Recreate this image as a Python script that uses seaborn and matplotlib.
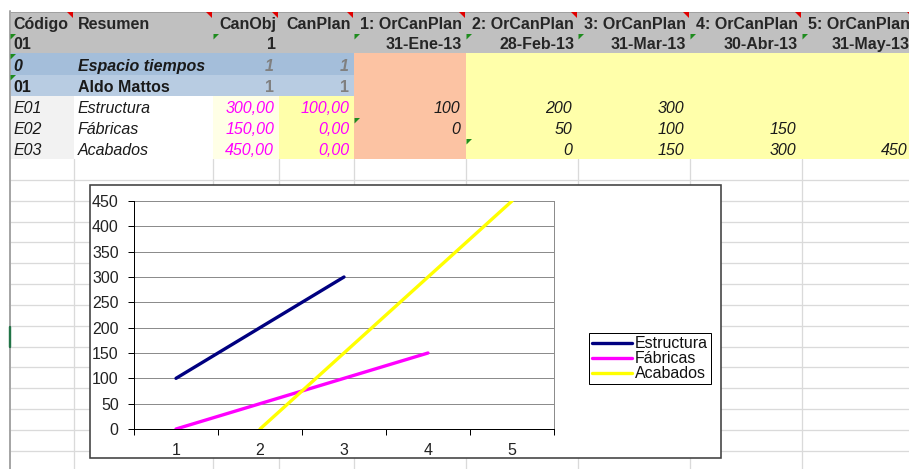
import numpy as np
import pandas as pd
import matplotlib
matplotlib.use("Agg")
import matplotlib.pyplot as plt
from matplotlib.patches import Rectangle, Polygon
import seaborn as sns

# ---------------- data ----------------
periodos = [1, 2, 3, 4, 5]
series = ["Estructura", "Fábricas", "Acabados"]
estructura = [100, 200, 300, np.nan, np.nan]
fabricas = [0, 50, 100, 150, np.nan]
acabados = [np.nan, 0, 150, 300, 450]
colores = ["#000080", "#FF00FF", "#FFFF00"]

codigos = ["0", "01", "E01", "E02", "E03"]
resumen = ["Espacio tiempos", "Aldo Mattos", "Estructura", "Fábricas", "Acabados"]
can_obj = ["1", "1", "300,00", "150,00", "450,00"]
can_plan = ["1", "1", "100,00", "0,00", "0,00"]
cab_periodos = ["1: OrCanPlan", "2: OrCanPlan", "3: OrCanPlan", "4: OrCanPlan", "5: OrCanPlan"]
fechas = ["31-Ene-13", "28-Feb-13", "31-Mar-13", "30-Abr-13", "31-May-13"]
y_ticks = [0, 50, 100, 150, 200, 250, 300, 350, 400, 450]

sns.set_style("white")
plt.rcParams["font.family"] = ["Liberation Sans", "DejaVu Sans"]

W, H = 909, 469
fig = plt.figure(figsize=(W / 100, H / 100), dpi=100)
bg = fig.add_axes([0, 0, 1, 1])
bg.set_xlim(0, W)
bg.set_ylim(H, 0)
bg.axis("off")

px = 0.72  # 1 px in points
FS = 11.5

col_edges = [9, 74, 213, 279, 354, 466, 578, 690, 802, 914]
row_top = 159
row_h = 20.85

# sheet grid below the table
for x in col_edges[1:]:
    bg.plot([x, x], [row_top, H], color="#DADADA", lw=1.3 * px, zorder=1)
for k in range(1, 15):
    y = row_top + k * row_h
    bg.plot([9, W], [y, y], color="#DADADA", lw=1.3 * px, zorder=1)

# header
bg.add_patch(Rectangle((9, 12), W - 9, 41, facecolor="#C0C0C0", edgecolor="none", zorder=2))
bg.plot([9, W], [12, 12], color="#A0A0A0", lw=1 * px, zorder=3)
bg.plot([9.5, 9.5], [11, H], color="#A6A6A6", lw=2 * px, zorder=6)
bg.plot([9.5, 9.5], [327, 347], color="#217346", lw=2.4 * px, zorder=7)

# cell fills
rows_y = [53, 75, 96, 117, 138, 159]
blues = ["#A4BEDA", "#B8CCE2"]
for i in range(2):
    bg.add_patch(Rectangle((9, rows_y[i]), 354 - 9, rows_y[i + 1] - rows_y[i],
                           facecolor=blues[i], edgecolor="none", zorder=2))
bg.add_patch(Rectangle((9, 96), 74 - 9, 63, facecolor="#F2F2F2", edgecolor="none", zorder=2))
bg.add_patch(Rectangle((74, 96), 213 - 74, 63, facecolor="white", edgecolor="none", zorder=2))
bg.add_patch(Rectangle((213, 96), 66, 63, facecolor="#FFFFE6", edgecolor="none", zorder=2))
bg.add_patch(Rectangle((279, 96), 75, 63, facecolor="#FFFFAA", edgecolor="none", zorder=2))
bg.add_patch(Rectangle((354, 53), 112, 106, facecolor="#FCC3A3", edgecolor="none", zorder=2))
bg.add_patch(Rectangle((466, 53), W - 466, 106, facecolor="#FFFFAA", edgecolor="none", zorder=2))

# header texts
hb1, hb2 = 29, 49
bg.text(13, hb1, "Código", fontsize=FS, fontweight="bold", va="baseline", ha="left", zorder=5)
bg.text(78, hb1, "Resumen", fontsize=FS, fontweight="bold", va="baseline", ha="left", zorder=5)
bg.text(276, hb1, "CanObj", fontsize=FS, fontweight="bold", va="baseline", ha="right", zorder=5)
bg.text(351, hb1, "CanPlan", fontsize=FS, fontweight="bold", va="baseline", ha="right", zorder=5)
bg.text(13, hb2, "01", fontsize=FS, fontweight="bold", va="baseline", ha="left", zorder=5)
bg.text(276, hb2, "1", fontsize=FS, fontweight="bold", va="baseline", ha="right", zorder=5)
per_right = [462, 574, 686, 798, 910]
for r, cab, fe in zip(per_right, cab_periodos, fechas):
    bg.text(r, hb1, cab, fontsize=FS, fontweight="bold", va="baseline", ha="right", zorder=5)
    bg.text(r, hb2, fe, fontsize=FS, fontweight="bold", va="baseline", ha="right", zorder=5)

# body texts
baselines = [71, 92, 113, 134, 155]
valores = [estructura, fabricas, acabados]
for i in range(5):
    yb = baselines[i]
    if i == 0:
        sty, wt, col = "italic", "bold", "#1a1a1a"
    elif i == 1:
        sty, wt, col = "normal", "bold", "#1a1a1a"
    else:
        sty, wt, col = "italic", "normal", "#1a1a1a"
    bg.text(13, yb, codigos[i], fontsize=FS, fontstyle=sty, fontweight=wt, color=col,
            va="baseline", ha="left", zorder=5)
    bg.text(78, yb, resumen[i], fontsize=FS, fontstyle=sty, fontweight=wt, color=col,
            va="baseline", ha="left", zorder=5)
    ncol = "#808080" if i < 2 else "#FF00FF"
    bg.text(274, yb, can_obj[i], fontsize=FS, fontstyle=sty, fontweight=wt, color=ncol,
            va="baseline", ha="right", zorder=5)
    bg.text(349, yb, can_plan[i], fontsize=FS, fontstyle=sty, fontweight=wt, color=ncol,
            va="baseline", ha="right", zorder=5)
    if i >= 2:
        vals = valores[i - 2]
        for r, v in zip(per_right, vals):
            if not np.isnan(v):
                bg.text(r - 2, yb, f"{int(v)}", fontsize=FS, fontstyle="italic",
                        color="#1a1a1a", va="baseline", ha="right", zorder=5)

# comment / indicator triangles
for x in col_edges[1:]:
    bg.add_patch(Polygon([[x - 7, 12.5], [x - 1, 12.5], [x - 1, 18.5]], closed=True,
                         facecolor="#E00000", edgecolor="none", zorder=6))
greens = [(10, 34), (213, 34), (354, 34), (466, 34), (578, 34), (690, 34), (802, 34),
          (10, 54), (10, 75), (354, 118), (466, 139)]
for (x, y) in greens:
    bg.add_patch(Polygon([[x + 0.5, y], [x + 6, y], [x + 0.5, y + 5.5]], closed=True,
                         facecolor="#1E8C1E", edgecolor="none", zorder=6))

# chart frame
bg.add_patch(Rectangle((90, 185), 721 - 90, 458 - 185, facecolor="white",
                       edgecolor="#404040", lw=1.6 * px, zorder=8))

# ---------------- chart ----------------
df = pd.DataFrame({
    "periodo": periodos * 3,
    "valor": estructura + fabricas + acabados,
    "serie": [s for s in series for _ in periodos],
})
ax = fig.add_axes([134 / W, (H - 429) / H, 420 / W, 228 / H])
ax.set_zorder(10)
sns.lineplot(data=df, x="periodo", y="valor", hue="serie", hue_order=series,
             palette=colores, linewidth=2.4, ax=ax, solid_capstyle="round")
ax.set_facecolor("white")
ax.set_xlim(0.5, 5.5)
ax.set_ylim(0, 450)
ax.set_xlabel("")
ax.set_ylabel("")
ax.set_yticks(y_ticks)
ax.set_yticklabels([str(t) for t in y_ticks])
ax.set_xticks(periodos)
ax.set_xticklabels([str(p) for p in periodos])
ax.set_xticks([p - 0.5 for p in periodos] + [periodos[-1] + 0.5], minor=True)
ax.tick_params(axis="x", which="major", length=0, pad=10, labelsize=11.5, labelcolor="#222222")
ax.tick_params(axis="x", which="minor", length=4, width=1 * px, color="#000000", direction="out", bottom=True)
ax.tick_params(axis="y", which="major", length=4, width=1 * px, color="#000000", direction="out",
               pad=7, labelsize=11.5, labelcolor="#222222", left=True)
ax.grid(True, axis="y", color="#8C8C8C", lw=1 * px)
ax.set_axisbelow(True)
for s in ["left", "bottom"]:
    ax.spines[s].set_visible(True)
    ax.spines[s].set_color("#000000")
    ax.spines[s].set_linewidth(1 * px)
ax.spines["right"].set_visible(True)
ax.spines["right"].set_color("#8C8C8C")
ax.spines["right"].set_linewidth(1 * px)
ax.spines["top"].set_visible(False)

handles, labels = ax.get_legend_handles_labels()
if ax.get_legend() is not None:
    ax.get_legend().remove()
for h in handles:
    h.set_linewidth(2.4)
leg = ax.legend(handles, labels, loc="upper left",
                bbox_to_anchor=(589 / W, 1 - 333 / H), bbox_transform=fig.transFigure,
                fontsize=11.5, frameon=True, fancybox=False, framealpha=1,
                edgecolor="#000000", borderpad=0.2, labelspacing=0.0,
                handlelength=2.5, handletextpad=0.15, borderaxespad=0)
leg.get_frame().set_linewidth(1 * px)
for t in leg.get_texts():
    t.set_color("#111111")

fig.savefig("out.png", dpi=100)
